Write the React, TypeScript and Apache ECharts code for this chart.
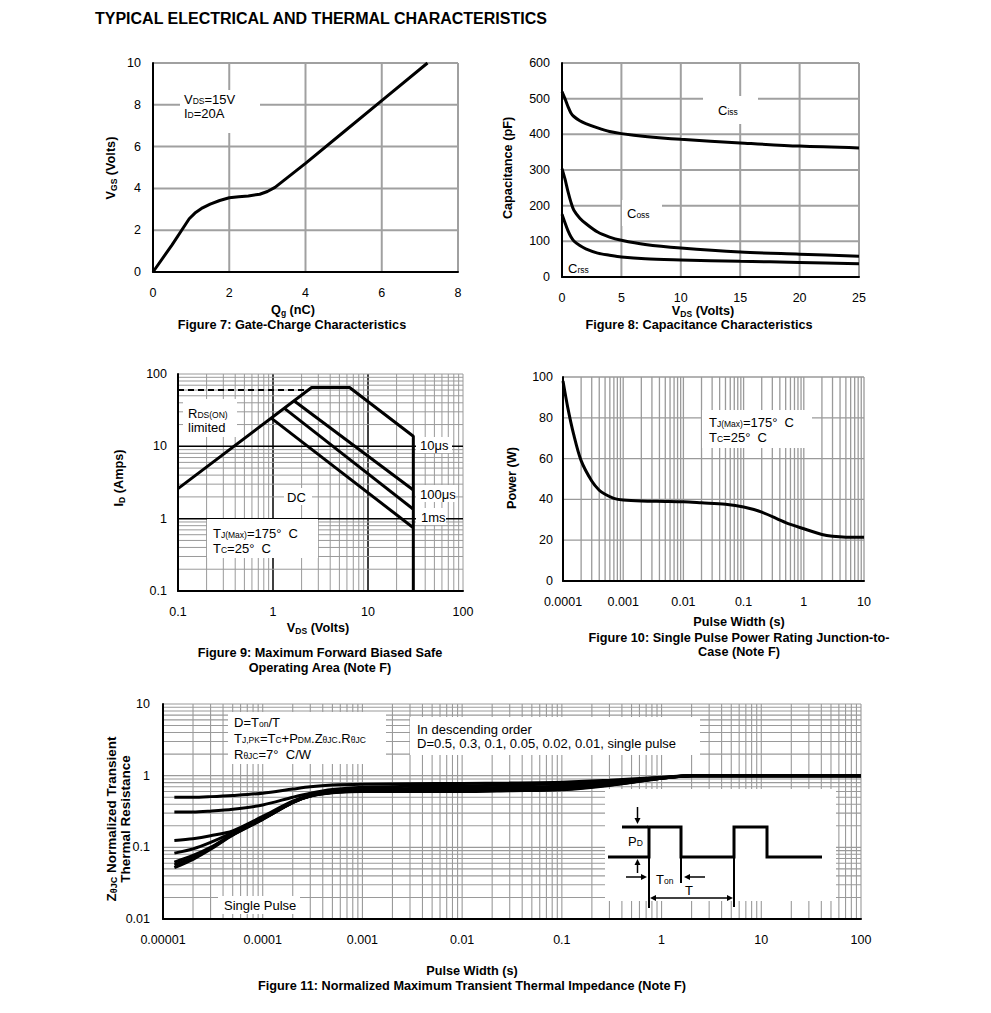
import React, { useEffect, useRef } from 'react';
import * as echarts from 'echarts';

const FONT = '"Liberation Sans", Arial, Helvetica, sans-serif';

/* ---------- Figure 7: Gate-Charge ---------- */
const fig7Qg = [0, 0.5, 0.95, 1.1, 1.3, 1.5, 1.75, 2.0, 2.25, 2.5, 2.8, 3.0, 3.2, 3.5, 4.0, 5.0, 6.0, 7.2];
const fig7Vgs = [0, 1.3, 2.55, 2.82, 3.07, 3.25, 3.42, 3.55, 3.6, 3.64, 3.72, 3.85, 4.05, 4.48, 5.2, 6.7, 8.2, 10];
const fig7XTicks = [0, 2, 4, 6, 8];
const fig7YTicks = [0, 2, 4, 6, 8, 10];

/* ---------- Figure 8: Capacitance ---------- */
const fig8Vds = [0, 0.25, 0.5, 0.75, 1, 1.5, 2, 3, 4, 5, 7, 10, 15, 20, 25];
const fig8Ciss = [520, 500, 478, 460, 450, 438, 430, 418, 408, 402, 394, 386, 376, 367, 362];
const fig8Coss = [304, 275, 240, 210, 187, 165, 150, 126, 112, 103, 91, 81, 70, 64, 58];
const fig8Crss = [176, 152, 130, 113, 101, 88, 79, 67, 61, 56, 51, 48, 44, 41, 37];
const fig8XTicks = [0, 5, 10, 15, 20, 25];
const fig8YTicks = [0, 100, 200, 300, 400, 500, 600];

/* ---------- Figure 9: Safe Operating Area ---------- */
const soaRdsLimitV = [0.1, 2.45];
const soaRdsLimitI = [60, 60];
const soa10usV = [0.1, 2.55, 6.4, 30, 30];
const soa10usI = [2.6, 65, 65, 13.8, 0.1];
const soa100usV = [1.65, 30];
const soa100usI = [43, 2.49];
const soa1msV = [1.3, 30];
const soa1msI = [34, 1.35];
const soaDcV = [0.95, 30];
const soaDcI = [24.7, 0.75];
const fig9XTicks = ['0.1', '1', '10', '100'];
const fig9YTicks = ['0.1', '1', '10', '100'];

/* ---------- Figure 10: Single pulse power ---------- */
const fig10Pw = [0.0001, 0.00012, 0.00015, 0.0002, 0.0003, 0.0004, 0.0005, 0.0007, 0.001, 0.002, 0.005, 0.01, 0.02, 0.05, 0.1, 0.2, 0.5, 1, 2, 3, 5, 10];
const fig10Power = [98, 85, 72, 59, 49, 44.5, 42.5, 40.5, 39.7, 39.2, 39, 38.8, 38.3, 37.6, 36.3, 33.8, 28.6, 25.6, 22.8, 21.9, 21.5, 21.5];
const fig10XTicks = ['0.0001', '0.001', '0.01', '0.1', '1', '10'];
const fig10YTicks = [0, 20, 40, 60, 80, 100];

/* ---------- Figure 11: Transient thermal impedance ---------- */
const fig11Pw = [1.3e-5, 2e-5, 3e-5, 5e-5, 1e-4, 2e-4, 3e-4, 5e-4, 1e-3, 3e-3, 1e-2, 3e-2, 0.1, 0.3, 1, 2, 3, 10, 100];
const zD05 = [0.5, 0.5, 0.51, 0.53, 0.57, 0.65, 0.7, 0.74, 0.76, 0.77, 0.78, 0.79, 0.81, 0.86, 0.95, 1.0, 1.0, 1.0, 1.0];
const zD03 = [0.31, 0.31, 0.32, 0.34, 0.39, 0.5, 0.57, 0.64, 0.69, 0.71, 0.72, 0.74, 0.77, 0.83, 0.94, 1.0, 1.0, 1.0, 1.0];
const zD01 = [0.125, 0.132, 0.145, 0.17, 0.27, 0.44, 0.53, 0.6, 0.64, 0.66, 0.67, 0.69, 0.72, 0.8, 0.93, 1.0, 1.0, 1.0, 1.0];
const zD005 = [0.083, 0.095, 0.117, 0.16, 0.255, 0.43, 0.525, 0.59, 0.62, 0.635, 0.645, 0.66, 0.69, 0.78, 0.92, 1.0, 1.0, 1.0, 1.0];
const zD002 = [0.062, 0.077, 0.1, 0.152, 0.25, 0.425, 0.52, 0.585, 0.61, 0.615, 0.62, 0.635, 0.66, 0.75, 0.92, 1.0, 1.0, 1.0, 1.0];
const zD001 = [0.057, 0.072, 0.097, 0.15, 0.248, 0.422, 0.52, 0.58, 0.605, 0.61, 0.612, 0.625, 0.645, 0.74, 0.92, 1.0, 1.0, 1.0, 1.0];
const zSingle = [0.052, 0.068, 0.094, 0.148, 0.245, 0.42, 0.52, 0.578, 0.6, 0.6, 0.6, 0.615, 0.635, 0.73, 0.92, 1.0, 1.0, 1.0, 1.0];
const fig11XTicks = ['0.00001', '0.0001', '0.001', '0.01', '0.1', '1', '10', '100'];
const fig11YTicks = ['0.01', '0.1', '1', '10'];

const LOG_MINOR = [2, 3, 4, 5, 6, 7, 8, 9];

type GL = { v: number; major: boolean };

function logLines(lo: number, hi: number, majorExp: number[]): GL[] {
  const out: GL[] = [];
  const e0 = Math.round(Math.log10(lo));
  const e1 = Math.round(Math.log10(hi));
  for (let e = e0; e < e1; e++) {
    const d = Math.pow(10, e);
    if (e > e0) out.push({ v: d, major: majorExp.includes(e) });
    LOG_MINOR.forEach((k) => out.push({ v: d * k, major: false }));
  }
  out.push({ v: hi, major: false });
  return out;
}
function linLines(ticks: number[]): GL[] {
  return ticks.slice(1).map((v) => ({ v, major: false }));
}

const zip = (xs: number[], ys: number[]) => xs.map((x, i) => [x, ys[i]]);

function gridSeries(i: number, xl: GL[], yl: GL[], xr: number[], yr: number[], minor: string, major: string, wMinor: number, wMajor: number) {
  const data: number[][] = [];
  xl.forEach((l) => data.push([l.v, yr[0], 0, l.major ? 1 : 0]));
  yl.forEach((l) => data.push([xr[0], l.v, 1, l.major ? 1 : 0]));
  return {
    type: 'custom',
    xAxisIndex: i,
    yAxisIndex: i,
    z: 1,
    silent: true,
    clip: false,
    encode: { x: 0, y: 1 },
    data,
    renderItem: (params: any, api: any) => {
      const o = api.value(2);
      const m = api.value(3);
      const a = o === 0 ? api.coord([api.value(0), yr[0]]) : api.coord([xr[0], api.value(1)]);
      const b = o === 0 ? api.coord([api.value(0), yr[1]]) : api.coord([xr[1], api.value(1)]);
      return {
        type: 'line',
        shape: { x1: a[0], y1: a[1], x2: b[0], y2: b[1] },
        style: { stroke: m ? major : minor, lineWidth: m ? wMajor : wMinor },
      };
    },
  };
}

const logFmt = (labels: string[]) => (v: number) =>
  labels.find((l) => Math.abs(Math.log10(parseFloat(l)) - Math.log10(v)) < 1e-6) ?? '';

const RICH: any = {
  n: { fontSize: 13, fontFamily: FONT, color: '#000', lineHeight: 13, verticalAlign: 'middle' },
  s: { fontSize: 8.5, fontFamily: FONT, color: '#000', lineHeight: 6, verticalAlign: 'bottom' },
  b: { fontSize: 12.7, fontFamily: FONT, fontWeight: 'bold', color: '#000', lineHeight: 14, verticalAlign: 'middle' },
  bs: { fontSize: 8.5, fontFamily: FONT, fontWeight: 'bold', color: '#000', lineHeight: 5, verticalAlign: 'bottom' },
  bl: { fontSize: 13.5, fontFamily: FONT, fontWeight: 'bold', color: '#000', lineHeight: 15, verticalAlign: 'middle' },
  bls: { fontSize: 9, fontFamily: FONT, fontWeight: 'bold', color: '#000', lineHeight: 5, verticalAlign: 'bottom' },
  t: { fontSize: 16, fontFamily: FONT, fontWeight: 'bold', color: '#000', lineHeight: 18, verticalAlign: 'middle' },
};

function txt(x: number, y: number, text: string, align = 'left', rot = 0) {
  return {
    type: 'text',
    x,
    y,
    z: 60,
    silent: true,
    rotation: rot,
    style: {
      text,
      rich: RICH,
      align,
      verticalAlign: 'middle',
      textAlign: align,
      textVerticalAlign: 'middle',
      fill: '#000',
    },
  };
}
function box(x: number, y: number, w: number, h: number) {
  return { type: 'rect', z: 50, silent: true, shape: { x, y, width: w, height: h }, style: { fill: '#fff' } };
}
function seg(x1: number, y1: number, x2: number, y2: number, w = 2) {
  return { type: 'line', z: 60, silent: true, shape: { x1, y1, x2, y2 }, style: { stroke: '#000', lineWidth: w } };
}
function head(pts: number[][]) {
  return { type: 'polygon', z: 60, silent: true, shape: { points: pts }, style: { fill: '#000' } };
}

const TICK_FONT = 12.5;

function axis(i: number, extra: any, labelMargin: number) {
  const lbl = { color: '#000', fontSize: TICK_FONT, fontFamily: FONT, margin: labelMargin, ...(extra.axisLabel || {}) };
  return {
    gridIndex: i,
    z: 5,
    axisTick: { show: false },
    splitLine: { show: false },
    axisLine: { show: true, onZero: false, lineStyle: { color: '#000', width: 2 } },
    ...extra,
    axisLabel: lbl,
  };
}

function curve(i: number, data: number[][], width: number, smooth: any, extra: any = {}) {
  return {
    type: 'line',
    xAxisIndex: i,
    yAxisIndex: i,
    data,
    z: 3,
    silent: true,
    symbol: 'none',
    showSymbol: false,
    smooth,
    lineStyle: { color: '#000', width, ...(extra.lineStyle || {}) },
  };
}

function buildOption() {
  const g7 = { left: 153, top: 63, width: 305, height: 209 };
  const g8 = { left: 562, top: 63, width: 297, height: 214 };
  const g9 = { left: 178, top: 374, width: 285, height: 217 };
  const g10 = { left: 563, top: 377, width: 301, height: 204 };
  const g11 = { left: 163, top: 704, width: 698, height: 215 };

  const grey = '#a0a0a0';
  const greyLog = '#9a9a9a';

  const series: any[] = [
    gridSeries(0, linLines(fig7XTicks), linLines(fig7YTicks), [0, 8], [0, 10], grey, grey, 2, 2),
    gridSeries(1, linLines(fig8XTicks), linLines(fig8YTicks), [0, 25], [0, 600], grey, grey, 2, 2),
    gridSeries(2, logLines(0.1, 100, [0, 1]), logLines(0.1, 100, [0, 1]), [0.1, 100], [0.1, 100], greyLog, '#000', 1, 1.5),
    gridSeries(3, logLines(0.0001, 10, []), linLines(fig10YTicks), [0.0001, 10], [0, 100], greyLog, greyLog, 1.3, 1.3),
    gridSeries(4, logLines(0.00001, 100, []), logLines(0.01, 10, []), [0.00001, 100], [0.01, 10], greyLog, greyLog, 1.1, 1.1),

    curve(0, zip(fig7Qg, fig7Vgs), 3, false),

    curve(1, zip(fig8Vds, fig8Ciss), 3, 0.3),
    curve(1, zip(fig8Vds, fig8Coss), 3, 0.3),
    curve(1, zip(fig8Vds, fig8Crss), 3, 0.3),

    curve(2, zip(soaRdsLimitV, soaRdsLimitI), 2, false, { lineStyle: { type: [6, 4] } }),
    curve(2, zip(soa10usV, soa10usI), 3, false),
    curve(2, zip(soa100usV, soa100usI), 3, false),
    curve(2, zip(soa1msV, soa1msI), 3, false),
    curve(2, zip(soaDcV, soaDcI), 3, false),

    curve(3, zip(fig10Pw, fig10Power), 3, 0.3),

    ...[zD05, zD03, zD01, zD005, zD002, zD001, zSingle].map((z) => curve(4, zip(fig11Pw, z), 3, 0.3)),
  ];

  const graphic: any[] = [
    txt(95, 18, '{t|TYPICAL ELECTRICAL AND THERMAL CHARACTERISTICS}'),

    // Fig 7
    txt(293, 310, '{b|Q}{bs|g}{b| (nC)}', 'center'),
    txt(292, 325, '{b|Figure 7: Gate-Charge Characteristics}', 'center'),
    txt(111, 168, '{b|V}{bs|GS}{b| (Volts)}', 'center', Math.PI / 2),
    box(180, 90, 80, 43),
    txt(184, 99, '{n|V}{s|DS}{n|=15V}'),
    txt(184, 113, '{n|I}{s|D}{n|=20A}'),

    // Fig 8
    txt(703, 311, '{b|V}{bs|DS}{b| (Volts)}', 'center'),
    txt(699, 325, '{b|Figure 8: Capacitance Characteristics}', 'center'),
    txt(508, 168, '{b|Capacitance (pF)}', 'center', Math.PI / 2),
    box(703, 96, 55, 28),
    txt(718, 110, '{n|C}{s|iss}'),
    box(622, 200, 40, 26),
    txt(627, 213, '{n|C}{s|oss}'),
    box(565, 259, 30, 16),
    txt(568, 268, '{n|C}{s|rss}'),

    // Fig 9
    txt(318, 628, '{b|V}{bs|DS}{b| (Volts)}', 'center'),
    txt(320, 653, '{b|Figure 9: Maximum Forward Biased Safe}', 'center'),
    txt(320, 668, '{b|Operating Area (Note F)}', 'center'),
    txt(119, 478, '{b|I}{bs|D}{b| (Amps)}', 'center', Math.PI / 2),
    box(183, 399, 54, 38),
    txt(188, 413, '{n|R}{s|DS(ON)}'),
    txt(188, 427, '{n|limited}'),
    box(416, 437, 36, 16),
    txt(420, 445, '{n|10μs}'),
    box(416, 485, 40, 17),
    txt(420, 494, '{n|100μs}'),
    box(416, 508, 30, 17),
    txt(421, 517, '{n|1ms}'),
    box(284, 488, 28, 17),
    txt(287, 497, '{n|DC}'),
    box(207, 519, 111, 39),
    txt(213, 533, '{n|T}{s|J(Max)}{n|=175°  C}'),
    txt(213, 548, '{n|T}{s|C}{n|=25°  C}'),

    // Fig 10
    txt(739, 622, '{b|Pulse Width (s)}', 'center'),
    txt(739, 638, '{b|Figure 10: Single Pulse Power Rating Junction-to-}', 'center'),
    txt(739, 652, '{b|Case (Note F)}', 'center'),
    txt(512, 478, '{b|Power (W)}', 'center', Math.PI / 2),
    box(702, 410, 110, 38),
    txt(709, 422, '{n|T}{s|J(Max)}{n|=175°  C}'),
    txt(709, 437, '{n|T}{s|C}{n|=25°  C}'),

    // Fig 11
    txt(472, 971, '{b|Pulse Width (s)}', 'center'),
    txt(472, 986, '{b|Figure 11: Normalized Maximum Transient Thermal Impedance (Note F)}', 'center'),
    txt(111, 819, '{bl|Z}{bls|θJC}{bl| Normalized Transient}', 'center', Math.PI / 2),
    txt(125, 819, '{bl|Thermal Resistance}', 'center', Math.PI / 2),
    box(228, 712, 158, 52),
    txt(234, 722, '{n|D=T}{s|on}{n|/T}'),
    txt(234, 738, '{n|T}{s|J,PK}{n|=T}{s|C}{n|+P}{s|DM}{n|.Z}{s|θJC}{n|.R}{s|θJC}'),
    txt(234, 754, '{n|R}{s|θJC}{n|=7°  C/W}'),
    box(410, 717, 290, 38),
    txt(417, 729, '{n|In descending order}'),
    txt(417, 743, '{n|D=0.5, 0.3, 0.1, 0.05, 0.02, 0.01, single pulse}'),
    box(218, 896, 82, 18),
    txt(224, 905, '{n|Single Pulse}'),

    // Fig 11 inset (duty-cycle diagram)
    box(605, 789, 231, 112),
    {
      type: 'polyline',
      z: 60,
      silent: true,
      shape: { points: [[608, 857], [649, 857], [649, 827], [681, 827], [681, 857], [734, 857], [734, 827], [767, 827], [767, 857], [822, 857]] },
      style: { stroke: '#000', lineWidth: 3, fill: null },
    },
    seg(622, 827, 648, 827, 3),
    seg(649, 857, 649, 908, 2),
    seg(681, 858, 681, 883, 2),
    seg(734, 858, 734, 907, 2),
    seg(637.5, 807, 637.5, 818, 1.5),
    head([[634.5, 818], [640.5, 818], [637.5, 824]]),
    seg(637.5, 873, 637.5, 865, 1.5),
    head([[634.5, 865], [640.5, 865], [637.5, 859]]),
    txt(628, 841, '{n|P}{s|D}'),
    seg(626, 877, 641, 877, 1.5),
    head([[641, 874], [641, 880], [647, 877]]),
    seg(705, 877, 690, 877, 1.5),
    head([[690, 874], [690, 880], [684, 877]]),
    txt(656, 879, '{n|T}{s|on}'),
    seg(656, 898, 727, 898, 1.5),
    head([[656, 895], [656, 901], [650, 898]]),
    head([[727, 895], [727, 901], [733, 898]]),
    txt(685, 890, '{n|T}'),
  ];

  return {
    animation: false,
    backgroundColor: '#fff',
    textStyle: { fontFamily: FONT },
    grid: [g7, g8, g9, g10, g11],
    xAxis: [
      axis(0, { type: 'value', min: 0, max: 8, interval: 2 }, 14),
      axis(1, { type: 'value', min: 0, max: 25, interval: 5 }, 14),
      axis(2, { type: 'log', logBase: 10, min: 0.1, max: 100, axisLabel: { formatter: logFmt(fig9XTicks) } }, 14),
      axis(3, { type: 'log', logBase: 10, min: 0.0001, max: 10, axisLabel: { formatter: logFmt(fig10XTicks) } }, 14),
      axis(4, { type: 'log', logBase: 10, min: 0.00001, max: 100, axisLabel: { formatter: logFmt(fig11XTicks) } }, 14),
    ],
    yAxis: [
      axis(0, { type: 'value', min: 0, max: 10, interval: 2 }, 12),
      axis(1, { type: 'value', min: 0, max: 600, interval: 100 }, 12),
      axis(2, { type: 'log', logBase: 10, min: 0.1, max: 100, axisLabel: { formatter: logFmt(fig9YTicks) } }, 11),
      axis(3, { type: 'value', min: 0, max: 100, interval: 20 }, 10),
      axis(4, { type: 'log', logBase: 10, min: 0.01, max: 10, axisLabel: { formatter: logFmt(fig11YTicks) } }, 13),
    ],
    series,
    graphic: { elements: graphic },
  };
}

export default function App() {
  const ref = useRef<HTMLDivElement>(null);
  useEffect(() => {
    if (!ref.current) return;
    const chart = echarts.init(ref.current, undefined, { renderer: 'svg' });
    chart.setOption(buildOption() as any);
    return () => chart.dispose();
  }, []);
  return (
    <div
      ref={ref}
      style={{ position: 'fixed', left: 0, top: 0, width: 991, height: 1013, background: '#fff' }}
    />
  );
}
